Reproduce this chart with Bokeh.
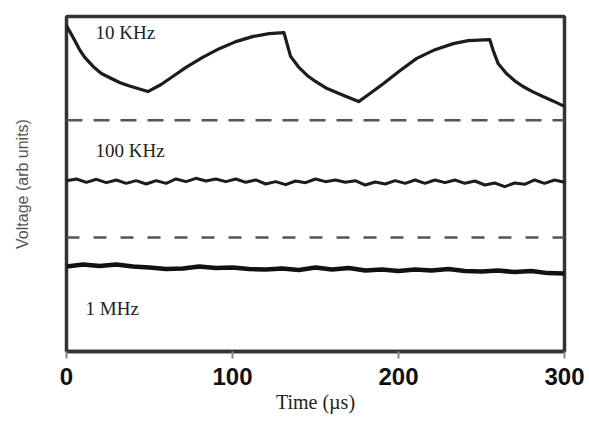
from bokeh.plotting import figure
from bokeh.models import Range1d, FixedTicker, Label
from bokeh.embed import file_html
from bokeh.resources import INLINE

# 10 kHz trace: charge / discharge cycles (time in µs, voltage in arb. units)
t_10k = [0, 2, 5, 8, 11, 16, 21, 27, 32, 37, 43, 49, 57, 64, 72, 82, 92, 102,
         112, 122, 131, 133, 135, 140, 145, 150, 157, 167, 176, 182, 191, 201,
         211, 222, 233, 242, 255, 257, 260, 265, 270, 275, 281, 287, 293, 299]
v_10k = [9.72, 9.55, 9.28, 9.00, 8.78, 8.51, 8.30, 8.15, 8.03, 7.94, 7.85, 7.76,
         7.97, 8.21, 8.48, 8.78, 9.04, 9.25, 9.40, 9.49, 9.52, 9.16, 8.81, 8.48,
         8.24, 8.06, 7.85, 7.64, 7.46, 7.67, 8.00, 8.39, 8.75, 9.01, 9.19, 9.28,
         9.31, 8.99, 8.60, 8.30, 8.08, 7.91, 7.75, 7.61, 7.48, 7.34]

# 100 kHz trace: small ripple
t_100k = [0, 6, 12, 18, 24, 30, 36, 42, 48, 54, 60, 66, 72, 78, 84, 90, 96, 102,
          108, 114, 120, 126, 132, 138, 144, 150, 156, 162, 168, 174, 180, 186,
          192, 198, 204, 210, 216, 222, 228, 234, 240, 246, 252, 258, 264, 270,
          276, 282, 288, 294, 300]
v_100k = [5.10, 5.15, 5.05, 5.14, 5.04, 5.12, 5.02, 5.10, 5.00, 5.10, 5.02, 5.15,
          5.07, 5.17, 5.09, 5.15, 5.07, 5.15, 5.05, 5.12, 5.00, 5.07, 4.98, 5.09,
          5.04, 5.15, 5.07, 5.12, 5.05, 5.10, 4.97, 5.06, 5.00, 5.10, 5.02, 5.12,
          5.02, 5.12, 5.04, 5.12, 5.02, 5.09, 4.97, 5.03, 4.92, 5.03, 4.99, 5.12,
          5.02, 5.12, 5.05]

# 1 MHz trace: nearly flat, slow drift
t_1m = [0, 10, 20, 30, 40, 50, 60, 70, 80, 90, 100, 110, 120, 130, 140, 150, 160,
        170, 180, 190, 200, 210, 220, 230, 240, 250, 260, 270, 280, 290, 300]
v_1m = [2.54, 2.60, 2.55, 2.60, 2.54, 2.51, 2.46, 2.48, 2.54, 2.49, 2.51, 2.46,
        2.45, 2.48, 2.43, 2.51, 2.45, 2.49, 2.42, 2.45, 2.40, 2.45, 2.42, 2.46,
        2.40, 2.39, 2.42, 2.37, 2.40, 2.34, 2.33]

# dashed separators between the traces
separator_levels = [6.90, 3.40]
separator_dashes = ["16 11", "13 14"]

x_ticks = [0, 100, 200, 300]
trace_labels = ["10 KHz", "100 KHz", "1 MHz"]

p = figure(width=589, height=421, x_range=Range1d(0, 300), y_range=Range1d(0, 10),
           output_backend="svg", toolbar_location=None,
           min_border_left=66, min_border_right=25, min_border_top=16,
           min_border_bottom=70, background_fill_color="white",
           border_fill_color="white")

p.grid.visible = False
p.outline_line_color = "#333333"
p.outline_line_width = 3.5

# x axis
xa = p.xaxis[0]
xa.ticker = FixedTicker(ticks=x_ticks)
xa.minor_tick_line_color = None
xa.major_tick_in = 0
xa.major_tick_out = 7
xa.major_tick_line_color = "#888888"
xa.major_tick_line_width = 2
xa.axis_line_color = "#333333"
xa.axis_line_width = 3.5
xa.major_label_text_font = "Liberation Sans"
xa.major_label_text_font_style = "bold"
xa.major_label_text_font_size = "24px"
xa.major_label_text_color = "#111111"
xa.major_label_standoff = 9
xa.axis_label = "Time (µs)"
xa.axis_label_text_font = "Liberation Serif"
xa.axis_label_text_font_style = "normal"
xa.axis_label_text_font_size = "20px"
xa.axis_label_text_color = "#222222"
xa.axis_label_standoff = 3

# y axis: title only
ya = p.yaxis[0]
ya.ticker = FixedTicker(ticks=[])
ya.minor_tick_line_color = None
ya.major_tick_out = 0
ya.major_tick_in = 0
ya.axis_line_color = None
ya.major_label_text_font_size = "0px"
ya.axis_label = "Voltage (arb units)"
ya.axis_label_text_font = "Liberation Sans"
ya.axis_label_text_font_style = "normal"
ya.axis_label_text_font_size = "16px"
ya.axis_label_text_color = "#555555"
ya.axis_label_standoff = 36

# separators
for lvl, dash in zip(separator_levels, separator_dashes):
    p.line([0, 300], [lvl, lvl], line_color="#555555", line_width=2.5,
           line_dash=dash)

# traces
p.line(t_10k, v_10k, line_color="#1c1c1c", line_width=3.2, line_join="round",
       line_cap="round")
p.line(t_100k, v_100k, line_color="#1c1c1c", line_width=3, line_join="round")
p.line(t_1m, v_1m, line_color="#111111", line_width=4.5, line_join="round")

# trace annotations
for txt, (lx, ly) in zip(trace_labels, [(17.5, 9.52), (17.5, 6.0), (11.5, 1.28)]):
    p.add_layout(Label(x=lx, y=ly, text=txt, text_font="Liberation Serif",
                       text_font_size="19px", text_baseline="middle",
                       text_color="#222222"))

open("out.html", "w").write(file_html(p, INLINE))
